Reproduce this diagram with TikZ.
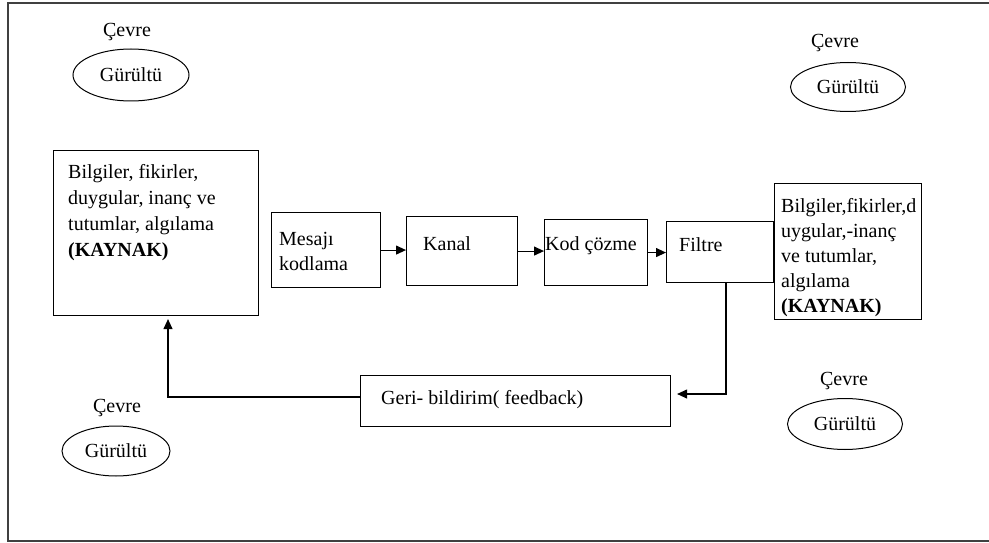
\documentclass[tikz,border=0pt]{standalone}
\usepackage{fontspec}
\setmainfont{Liberation Serif}
\usetikzlibrary{shapes.geometric,arrows.meta}
\begin{document}
\begin{tikzpicture}[x=1pt,y=-1pt,
  every node/.style={font=\fontsize{20}{26}\selectfont},
  box/.style={draw, line width=1.1pt, inner sep=0pt, anchor=north west},
  txt/.style={inner sep=0pt, anchor=base west},
  noise/.style={draw, ellipse, line width=1pt, inner sep=0pt},
  env/.style={inner sep=0pt, anchor=base},
  flow/.style={line width=1.1pt, -{Triangle[length=10pt,width=9pt]}},
  frame/.style={line width=1.5pt, black!75}]
\useasboundingbox (0,0) rectangle (989,543);

% outer frame (open on the right)
\draw[frame] (989,3) -- (8,3) -- (8,541) -- (989,541);

% sender
\node[box, minimum width=205pt, minimum height=165pt] (src) at (53,150) {};
\node[txt] (s1) at (68,178) {Bilgiler, fikirler,};
\node[txt] (s2) at (68,204) {duygular, inanç ve};
\node[txt] (s3) at (68,230) {tutumlar, algılama};
\node[txt] (s4) at (68,256) {\bfseries (KAYNAK)};

% process chain
\node[box, minimum width=109pt, minimum height=75pt] (mk) at (271,212) {};
\node[txt] (mk1) at (279,245) {Mesajı};
\node[txt] (mk2) at (279,270) {kodlama};

\node[box, minimum width=111pt, minimum height=69pt] (kanal) at (406,216) {};
\node[txt] (kanalt) at (423,250) {Kanal};

\node[box, minimum width=103pt, minimum height=66pt] (kod) at (544,219) {};
\node[txt] (kodt) at (545,250) {Kod çözme};

\node[box, minimum width=107pt, minimum height=61pt] (filtre) at (666,221) {};
\node[txt] (filtret) at (679,251) {Filtre};

% receiver
\node[box, minimum width=147pt, minimum height=136pt] (dst) at (774,183) {};
\node[txt] (d1) at (781,212) {Bilgiler,fikirler,d};
\node[txt] (d2) at (781,237) {uygular,-inanç};
\node[txt] (d3) at (781,262) {ve tutumlar,};
\node[txt] (d4) at (781,287) {algılama};
\node[txt] (d5) at (781,312) {\bfseries (KAYNAK)};

% feedback
\node[box, minimum width=310pt, minimum height=51pt] (geri) at (360,375) {};
\node[txt] (gerit) at (381,404) {Geri- bildirim( feedback)};

% connectors
\draw[flow] (mk.east) -- (mk.east -| kanal.west);
\draw[flow] (kanal.east) -- (kanal.east -| kod.west);
\draw[flow] (kod.east) -- (kod.east -| filtre.west);

\coordinate (fbturn) at (726,394);
\draw[flow] (filtre.south -| fbturn) -- (fbturn) -- ([xshift=6pt]geri.east |- fbturn);

\coordinate (rtturn) at (168,397);
\draw[flow] (geri.west |- rtturn) -- (rtturn) -- ([yshift=-3pt]src.south -| rtturn);

% environment and noise
\node[env] (c1) at (127,37) {Çevre};
\node[noise, minimum width=116pt, minimum height=52pt] (n1) at (131,75) {Gürültü};

\node[env] (c2) at (835,48) {Çevre};
\node[noise, minimum width=115pt, minimum height=49pt] (n2) at (848,87) {Gürültü};

\node[env] (c3) at (117,412) {Çevre};
\node[noise, minimum width=108pt, minimum height=50pt] (n3) at (116,451) {Gürültü};

\node[env] (c4) at (844,385) {Çevre};
\node[noise, minimum width=115pt, minimum height=51pt] (n4) at (845,424) {Gürültü};
\end{tikzpicture}
\end{document}
